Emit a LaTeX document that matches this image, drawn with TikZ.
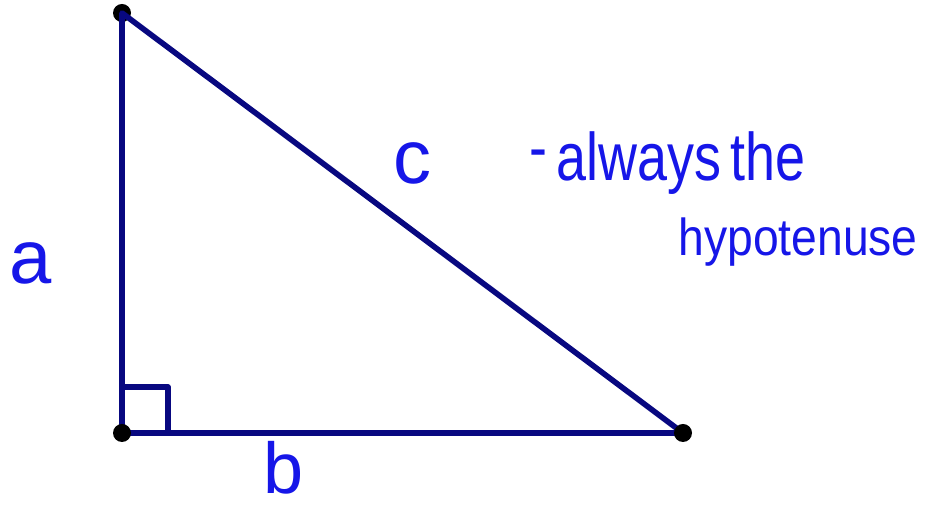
\documentclass[tikz,border=0pt]{standalone}
\usepackage{fontspec}
\usepackage{graphicx}
\usepackage{xcolor}
\usetikzlibrary{calc}
\setmainfont{Liberation Sans}
\definecolor{trinavy}{RGB}{8,8,128}
\definecolor{inkblue}{RGB}{22,22,232}

\begin{document}
\begin{tikzpicture}[x=0.5pt,y=-0.5pt,
    side/.style={draw=trinavy,line width=2.8pt,line join=round},
    vtx/.style={circle,fill=black,inner sep=0pt,minimum size=9pt},
    ink/.style={text=inkblue,inner sep=0pt}]
  \useasboundingbox (0,0) rectangle (928,506);
  \node[vtx] (top) at (122,13) {};
  \coordinate (ra) at (122,433);
  \coordinate (rb) at (683,433);
  \draw[side] (top.center) -- (ra) -- (rb) -- cycle;
  \draw[side] ($(ra)+(0,-46)$) -| ($(ra)+(46,0)$);
  \node[vtx] (left) at (ra) {};
  \node[vtx] (right) at (rb) {};
  % side labels
  \node[ink,font=\fontsize{38}{40}\selectfont,anchor=base] (la) at (31,284) {a};
  \node[ink,font=\fontsize{36}{38}\selectfont,anchor=base] (lb) at (284,494) {b};
  \node[ink,font=\fontsize{38}{40}\selectfont,anchor=base] (lc) at (412,184) {c};
  \node[ink,font=\fontsize{33.7}{36}\selectfont,anchor=base west] (note1) at (529,181)
    {\scalebox{0.8}[1]{\raisebox{5pt}{-}\,always\,the}};
  \node[ink,font=\fontsize{26}{28}\selectfont,anchor=base west] (note2) at (678,256)
    {\scalebox{0.89}[1]{hypotenuse}};
\end{tikzpicture}
\end{document}
